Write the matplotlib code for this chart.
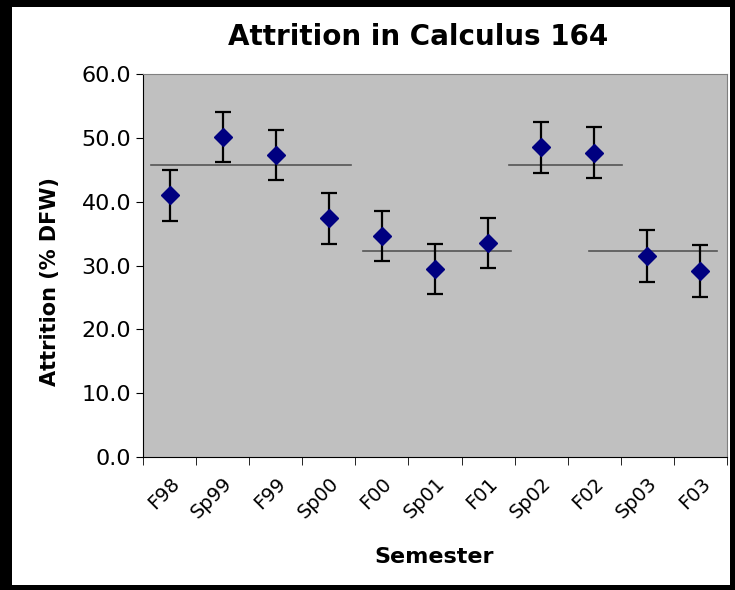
import numpy as np
import matplotlib
matplotlib.use("Agg")
import matplotlib.pyplot as plt
from matplotlib.patches import Rectangle

semesters = ["F98", "Sp99", "F99", "Sp00", "F00", "Sp01", "F01", "Sp02", "F02", "Sp03", "F03"]
attrition = [41.0, 50.1, 47.3, 37.4, 34.6, 29.5, 33.5, 48.5, 47.7, 31.5, 29.1]
err = [4.0, 3.9, 3.9, 4.0, 3.95, 3.9, 3.95, 3.95, 3.95, 4.05, 4.1]

# group averages drawn as horizontal lines (start, end in category units, level)
avg_start = [-0.35, 3.65, 6.4, 7.9]
avg_end = [3.42, 6.43, 8.52, 10.32]
avg_level = [45.8, 32.3, 45.8, 32.3]

fig = plt.figure(figsize=(7.35, 5.9), dpi=100)
fig.patch.set_facecolor("black")
fig.add_artist(Rectangle((12 / 735, 5 / 590), 718 / 735, 578 / 590,
                         transform=fig.transFigure, facecolor="white",
                         edgecolor="none", zorder=-1))

ax = fig.add_axes([143 / 735, 1 - 457 / 590, 584 / 735, 383 / 590])
ax.set_facecolor("#C0C0C0")

x = np.arange(len(semesters))
for s, e, lv in zip(avg_start, avg_end, avg_level):
    ax.plot([s, e], [lv, lv], color="#555555", lw=1.2, zorder=2)

ax.errorbar(x, attrition, yerr=err, fmt="none", ecolor="black",
            elinewidth=1.6, capsize=6, capthick=1.6, zorder=3)
ax.plot(x, attrition, linestyle="none", marker="D", ms=9,
        color="#000080", zorder=4)

ax.set_xlim(-0.5, len(semesters) - 0.5)
ax.set_ylim(0, 60)
ax.set_yticks(np.arange(0, 61, 10))
ax.set_yticklabels([f"{v:.1f}" for v in np.arange(0, 61, 10)], fontsize=16)
ax.set_xticks(x)
ax.set_xticks(np.arange(-0.5, len(semesters), 1), minor=True)
ax.tick_params(axis="x", which="major", length=0, pad=12)
ax.tick_params(axis="x", which="minor", length=6, direction="out", color="black")
ax.tick_params(axis="y", length=5, direction="out", color="black")
ax.set_xticklabels(semesters, fontsize=14, rotation=45,
                   ha="right", rotation_mode="anchor")

for side in ["top", "right"]:
    ax.spines[side].set_color("#808080")
for side in ["left", "bottom"]:
    ax.spines[side].set_color("black")

fig.text(418 / 735, 1 - 37 / 590, "Attrition in Calculus 164", fontsize=20,
         fontweight="bold", ha="center", va="center")
ax.set_ylabel("Attrition (% DFW)", fontsize=15, fontweight="bold")
ax.yaxis.set_label_coords(-0.159, 0.457)
ax.set_xlabel("Semester", fontsize=16, fontweight="bold")
ax.xaxis.set_label_coords(0.499, -(557 - 457) / 383)
ax.xaxis.label.set_va("center")
ax.yaxis.label.set_va("center")

fig.savefig("out.png", dpi=100, facecolor=fig.get_facecolor())
